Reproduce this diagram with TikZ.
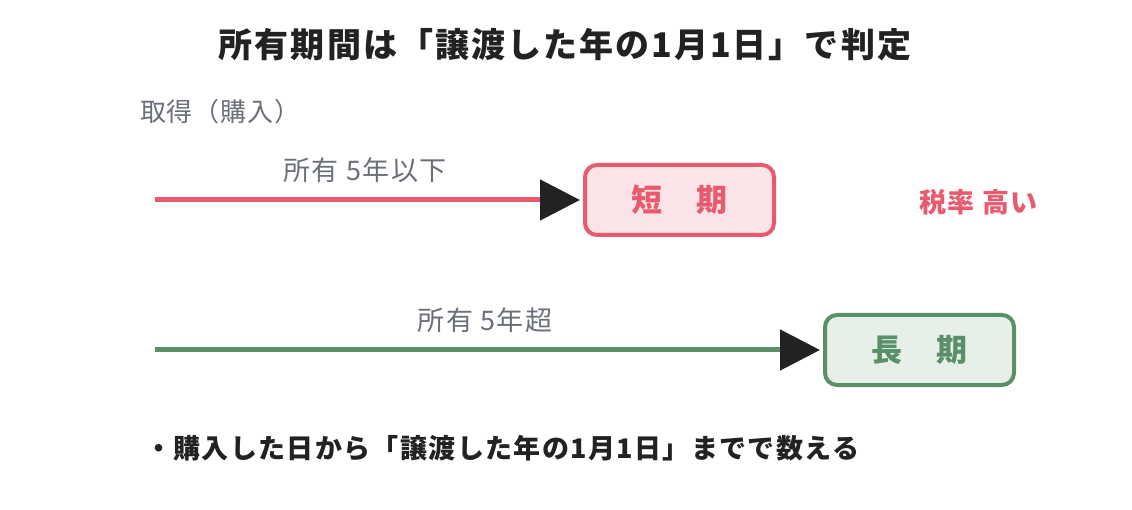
\documentclass[tikz,border=0pt]{standalone}
\usepackage{fontspec}
\setmainfont{Noto Sans CJK JP}
\usetikzlibrary{arrows.meta}
\definecolor{cred}{HTML}{E85A6E}
\definecolor{credfill}{HTML}{FBE4E8}
\definecolor{cgreen}{HTML}{5A9068}
\definecolor{cgreenfill}{HTML}{E6EFE8}
\definecolor{cgray}{HTML}{6A6F78}
\definecolor{cdark}{HTML}{222222}
\tikzset{
  x=1pt,y=-1pt,
  periodbox/.style={draw, line width=4pt, rounded corners=12pt, minimum width=189pt, minimum height=70pt, inner sep=0pt, font=\fontsize{31}{35}\selectfont\bfseries},
  lbl/.style={text=cgray, font=\fontsize{27}{31}\selectfont\addfontfeatures{LetterSpace=5}, inner sep=0pt},
  conn/.style={line width=5pt, -{Triangle[length=40pt,width=40pt,color=cdark]}, shorten >=3pt},
}
\begin{document}
\begin{tikzpicture}
\useasboundingbox (0,0) rectangle (1132,510);
\node[text=cdark, font=\fontsize{34}{38}\selectfont\bfseries\addfontfeatures{LetterSpace=6}, inner sep=0pt] (title) at (565,45) {所有期間は「譲渡した年の1月1日」で判定};
\node[text=cgray, font=\fontsize{26}{30}\selectfont\addfontfeatures{LetterSpace=3}, inner sep=0pt, anchor=west] (acq) at (140,112) {取得（購入）};
\coordinate (s1) at (155,200);
\coordinate (s2) at (155,350);
\node[periodbox, draw=cred, fill=credfill, text=cred] (short) at (679.5,200) {短\hspace{34pt}期};
\node[periodbox, draw=cgreen, fill=cgreenfill, text=cgreen] (long) at (919.5,350) {長\hspace{34pt}期};
\draw[conn, cred] (s1) -- (short.west);
\draw[conn, cgreen] (s2) -- (long.west);
\node[lbl] (l1) at (365,170) {所有 5年以下};
\node[lbl] (l2) at (485,320) {所有 5年超};
\node[text=cred, font=\fontsize{27}{31}\selectfont\bfseries\addfontfeatures{LetterSpace=5}, inner sep=0pt, anchor=west] (tax) at (919,202) {税率 高い};
\node[text=cdark, font=\fontsize{27}{31}\selectfont\bfseries\addfontfeatures{LetterSpace=5}, inner sep=0pt, anchor=west] (note) at (145,448) {・購入した日から「譲渡した年の1月1日」までで数える};
\end{tikzpicture}
\end{document}
